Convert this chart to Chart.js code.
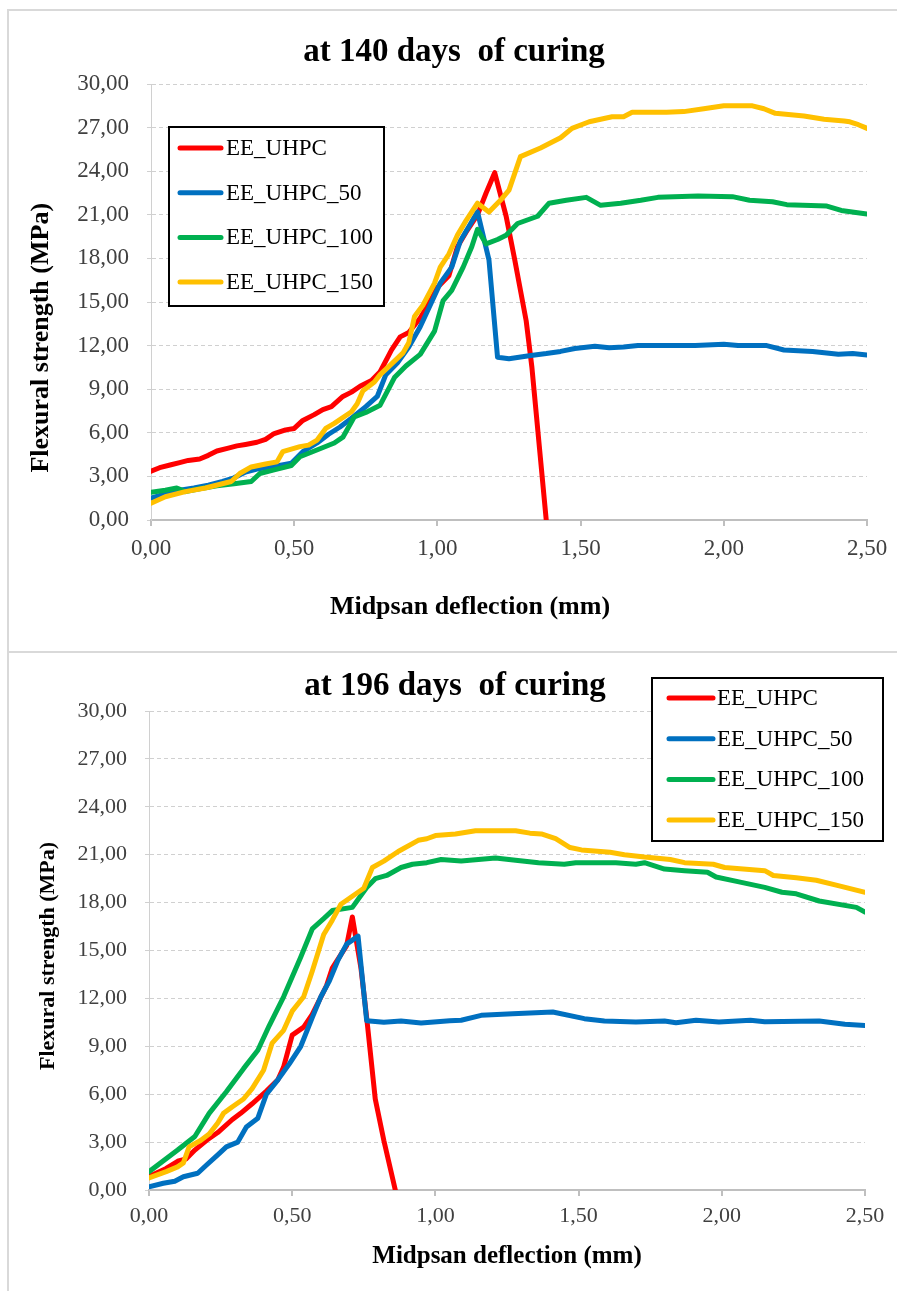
<!DOCTYPE html>
<html>
<head>
<meta charset="utf-8">
<title>Flexural strength vs midspan deflection</title>
<script src="https://cdn.jsdelivr.net/npm/chart.js@4.4.1/dist/chart.umd.min.js"></script>
<style>
  html, body { margin: 0; padding: 0; background: #fff; }
  body { width: 897px; height: 1291px; position: relative; overflow: hidden; }
  .panel { position: absolute; border: 2px solid #d9d9d9; box-sizing: border-box; }
  #panelTop { left: 7px; top: 9px; width: 900px; height: 650px; border-bottom: none; }
  #panelBottom { left: 7px; top: 651px; width: 900px; height: 700px; }
  canvas { position: absolute; left: 0; }
  #chartTop { top: 0; }
  #chartBottom { top: 652px; }
</style>
</head>
<body>
<div class="panel" id="panelTop"></div>
<div class="panel" id="panelBottom"></div>
<canvas id="chartTop" width="897" height="648"></canvas>
<canvas id="chartBottom" width="897" height="639"></canvas>
<script>
// series names / colours (same for both panels)
const seriesNames = ['EE_UHPC', 'EE_UHPC_50', 'EE_UHPC_100', 'EE_UHPC_150'];
const seriesColors = ['#ff0000', '#0070c0', '#00b050', '#ffc000'];

// axis ticks
const xTickValues = [0, 0.5, 1, 1.5, 2, 2.5];
const yTickValues = [0, 3, 6, 9, 12, 15, 18, 21, 24, 27, 30];

// ---- 140 days: deflection (mm) / strength (MPa)
const d140_EE = [0.00,0.03,0.07,0.10,0.13,0.17,0.20,0.23,0.27,0.30,0.33,0.37,0.40,0.43,0.47,0.50,0.53,0.57,0.60,0.63,0.67,0.70,0.73,0.77,0.80,0.84,0.87,0.90,0.94,0.97,1.00,1.04,1.07,1.10,1.14,1.17,1.20,1.24,1.27,1.31,1.33,1.38];
const s140_EE = [3.35,3.6,3.8,3.95,4.1,4.2,4.45,4.75,4.95,5.1,5.2,5.35,5.55,5.95,6.2,6.3,6.85,7.25,7.6,7.8,8.5,8.8,9.2,9.6,10.2,11.7,12.6,12.9,13.9,14.9,16.0,16.8,18.8,19.8,21.0,22.5,23.9,20.9,17.9,13.7,10.5,0];

const d140_50 = [0.00,0.05,0.10,0.15,0.20,0.25,0.29,0.33,0.37,0.42,0.49,0.53,0.58,0.62,0.66,0.70,0.75,0.79,0.82,0.86,0.90,0.94,0.98,1.01,1.05,1.08,1.11,1.14,1.18,1.21,1.25,1.32,1.38,1.43,1.48,1.55,1.60,1.65,1.70,1.80,1.90,2.00,2.05,2.15,2.21,2.31,2.40,2.45,2.50];
const s140_50 = [1.5,1.8,2.05,2.2,2.4,2.65,2.9,3.3,3.5,3.65,3.9,4.7,5.3,5.9,6.4,7.0,7.8,8.5,10.0,10.8,11.9,13.3,15.0,16.3,17.4,19.2,20.2,21.2,17.9,11.2,11.1,11.3,11.45,11.6,11.8,11.95,11.85,11.9,12.0,12.0,12.0,12.1,12.0,12.0,11.7,11.6,11.4,11.45,11.35];

const d140_100 = [0.00,0.05,0.09,0.12,0.17,0.23,0.29,0.35,0.38,0.43,0.49,0.52,0.59,0.64,0.67,0.71,0.75,0.80,0.85,0.89,0.94,0.99,1.02,1.05,1.09,1.12,1.14,1.17,1.21,1.24,1.28,1.35,1.39,1.45,1.52,1.57,1.64,1.71,1.77,1.91,2.03,2.09,2.17,2.22,2.36,2.41,2.50];
const s140_100 = [1.9,2.05,2.2,1.95,2.15,2.35,2.5,2.65,3.2,3.45,3.75,4.35,4.9,5.3,5.7,7.1,7.4,7.9,9.8,10.6,11.4,13.0,15.1,15.8,17.4,18.8,20.0,19.0,19.3,19.6,20.4,20.9,21.8,22.0,22.2,21.65,21.8,22.0,22.2,22.3,22.25,22.0,21.9,21.7,21.6,21.3,21.05];

const d140_150 = [0.00,0.05,0.12,0.19,0.28,0.31,0.35,0.40,0.44,0.46,0.52,0.55,0.58,0.61,0.64,0.70,0.72,0.74,0.78,0.80,0.83,0.88,0.90,0.92,0.95,0.99,1.01,1.04,1.07,1.10,1.14,1.18,1.22,1.25,1.29,1.36,1.43,1.47,1.53,1.61,1.65,1.68,1.80,1.86,1.93,2.00,2.10,2.14,2.18,2.28,2.35,2.42,2.44,2.47,2.50];
const s140_150 = [1.15,1.6,1.95,2.2,2.65,3.2,3.65,3.85,4.0,4.7,5.05,5.15,5.5,6.3,6.65,7.45,8.0,8.9,9.5,10.0,10.55,11.5,12.2,14.0,14.8,16.3,17.4,18.3,19.6,20.6,21.8,21.2,22.0,22.7,25.0,25.6,26.3,26.95,27.4,27.75,27.75,28.05,28.05,28.1,28.3,28.5,28.5,28.3,27.98,27.8,27.57,27.45,27.4,27.2,26.95];

// ---- 196 days
const d196_EE = [0.00,0.06,0.10,0.13,0.16,0.20,0.24,0.29,0.32,0.36,0.41,0.45,0.47,0.50,0.54,0.57,0.62,0.64,0.69,0.71,0.74,0.76,0.79,0.82,0.86];
const s196_EE = [0.85,1.35,1.8,1.95,2.5,3.1,3.6,4.4,4.8,5.4,6.2,6.9,7.7,9.7,10.2,11.0,12.8,13.9,15.3,17.1,13.9,10.8,5.7,3.1,0];

const d196_50 = [0.00,0.05,0.09,0.12,0.17,0.20,0.24,0.27,0.31,0.34,0.38,0.41,0.45,0.49,0.53,0.57,0.60,0.63,0.66,0.69,0.73,0.76,0.82,0.88,0.95,1.05,1.09,1.16,1.27,1.33,1.41,1.52,1.59,1.70,1.80,1.84,1.91,1.99,2.10,2.15,2.34,2.43,2.50];
const s196_50 = [0.2,0.42,0.55,0.83,1.05,1.55,2.2,2.7,3.0,3.95,4.5,6.0,6.9,7.9,9.0,10.8,12.1,13.1,14.4,15.4,15.9,10.6,10.5,10.58,10.46,10.6,10.63,10.94,11.04,11.08,11.15,10.73,10.58,10.52,10.58,10.48,10.63,10.52,10.63,10.54,10.58,10.38,10.31];

const d196_100 = [0.00,0.10,0.16,0.21,0.27,0.33,0.38,0.42,0.47,0.53,0.57,0.61,0.64,0.71,0.76,0.79,0.83,0.88,0.92,0.97,1.02,1.09,1.21,1.28,1.36,1.45,1.49,1.63,1.70,1.73,1.80,1.87,1.95,1.98,2.06,2.15,2.21,2.26,2.34,2.47,2.50];
const s196_100 = [1.15,2.5,3.35,4.8,6.15,7.6,8.75,10.3,12.1,14.6,16.35,17.0,17.5,17.7,18.95,19.5,19.7,20.2,20.4,20.5,20.7,20.6,20.8,20.65,20.5,20.4,20.5,20.5,20.4,20.5,20.1,20.0,19.9,19.6,19.3,18.95,18.65,18.55,18.1,17.7,17.4];

const d196_150 = [0.00,0.06,0.10,0.12,0.14,0.18,0.21,0.24,0.26,0.29,0.33,0.36,0.40,0.43,0.47,0.50,0.54,0.57,0.61,0.64,0.67,0.71,0.75,0.78,0.82,0.87,0.94,0.97,1.00,1.07,1.14,1.28,1.33,1.37,1.42,1.47,1.51,1.61,1.66,1.73,1.82,1.87,1.97,2.01,2.15,2.18,2.26,2.33,2.41,2.50];
const s196_150 = [0.75,1.15,1.45,1.7,2.7,3.1,3.5,4.2,4.8,5.2,5.7,6.35,7.5,9.2,10.0,11.2,12.1,13.7,16.0,16.9,17.9,18.4,18.9,20.2,20.6,21.2,21.9,22.0,22.2,22.3,22.5,22.5,22.35,22.3,22.0,21.45,21.3,21.15,21.0,20.85,20.7,20.5,20.4,20.2,20.0,19.7,19.55,19.4,19.05,18.65];

const SERIF = '"Liberation Serif", "Times New Roman", serif';

function fmt(v) {
    return Number(v).toFixed(2).replace('.', ',');
}

function pairs(xs, ys) {
    return xs.map(function (x, i) { return { x: x, y: ys[i] }; });
}

function makeDatasets(list, width) {
    return list.map(function (s, i) {
        return {
            label: seriesNames[i],
            data: pairs(s[0], s[1]),
            showLine: true,
            borderColor: seriesColors[i],
            backgroundColor: seriesColors[i],
            borderWidth: width,
            pointRadius: 0,
            tension: 0,
            borderJoinStyle: 'round',
            borderCapStyle: 'round',
            order: list.length - i  // later series on top, like the original
        };
    });
}

// legend drawn as a framed box inside the plot
const boxLegend = {
    id: 'boxLegend',
    afterDatasetsDraw: function (chart, args, o) {
        var ctx = chart.ctx;
        ctx.save();
        ctx.fillStyle = '#ffffff';
        ctx.fillRect(o.left, o.top, o.width, o.height);
        ctx.lineWidth = 2;
        ctx.strokeStyle = '#000000';
        ctx.strokeRect(o.left, o.top, o.width, o.height);
        ctx.font = o.fontSize + 'px ' + SERIF;
        ctx.textBaseline = 'middle';
        ctx.textAlign = 'left';
        chart.data.datasets.forEach(function (ds, i) {
            var y = o.firstRow + i * o.rowGap;
            ctx.beginPath();
            ctx.strokeStyle = ds.borderColor;
            ctx.lineWidth = 5;
            ctx.lineCap = 'round';
            ctx.moveTo(o.lineStart, y);
            ctx.lineTo(o.lineEnd, y);
            ctx.stroke();
            ctx.fillStyle = '#000000';
            ctx.fillText(ds.label, o.textStart, y + 1);
        });
        ctx.restore();
    }
};

function makeChart(id, datasets, c) {
    return new Chart(document.getElementById(id), {
        type: 'scatter',
        data: { datasets: datasets },
        plugins: [boxLegend],
        options: {
            responsive: false,
            animation: false,
            layout: { padding: { left: c.left, right: c.right, top: 0, bottom: 0 } },
            plugins: {
                legend: { display: false },
                tooltip: { enabled: false },
                title: {
                    display: true,
                    text: c.title,
                    color: '#000000',
                    font: { family: SERIF, size: c.titleSize, weight: 'bold', lineHeight: 1 },
                    padding: c.titlePad
                },
                boxLegend: c.legend
            },
            scales: {
                x: {
                    type: 'linear',
                    min: 0,
                    max: 2.5,
                    afterBuildTicks: function (s) { s.ticks = xTickValues.map(function (v) { return { value: v }; }); },
                    afterFit: function (s) { s.height = c.xHeight; },
                    grid: { drawOnChartArea: false, drawTicks: true, tickLength: 6, color: '#bfbfbf', lineWidth: 2 },
                    border: { display: true, color: '#bfbfbf', width: 2 },
                    ticks: {
                        color: '#404040',
                        font: { family: SERIF, size: c.tickSize },
                        padding: c.xTickPad,
                        maxRotation: 0,
                        autoSkip: false,
                        callback: fmt
                    },
                    title: {
                        display: true,
                        text: c.xTitle,
                        color: '#000000',
                        font: { family: SERIF, size: c.xTitleSize, weight: 'bold', lineHeight: 1 },
                        padding: { top: 0, bottom: c.xTitlePad }
                    }
                },
                y: {
                    min: 0,
                    max: 30,
                    afterBuildTicks: function (s) { s.ticks = yTickValues.map(function (v) { return { value: v }; }); },
                    afterFit: function (s) { s.width = c.yWidth; },
                    grid: { color: '#d0d0d0', lineWidth: 1, drawTicks: true, tickLength: 4 },
                    border: { display: true, color: '#d0d0d0', width: 1, dash: [4, 3] },
                    ticks: {
                        color: '#404040',
                        font: { family: SERIF, size: c.tickSize },
                        padding: 18,
                        callback: fmt
                    },
                    title: {
                        display: true,
                        text: c.yTitle,
                        color: '#000000',
                        font: { family: SERIF, size: c.yTitleSize, weight: 'bold', lineHeight: 1 },
                        padding: { top: c.yTitlePad, bottom: 0 }
                    }
                }
            }
        }
    });
}

document.addEventListener('DOMContentLoaded', function () {
    makeChart('chartTop', makeDatasets([
        [d140_EE, s140_EE], [d140_50, s140_50], [d140_100, s140_100], [d140_150, s140_150]
    ], 5), {
        title: 'at 140 days  of curing',
        titleSize: 33,
        titlePad: { top: 35.5, bottom: 15.5 },
        left: 41,
        right: 30,
        xHeight: 128,
        yWidth: 110,
        tickSize: 23,
        xTickPad: 9,
        xTitle: 'Midpsan deflection (mm)' + '            ',
        xTitleSize: 26,
        xTitlePad: 28,
        yTitle: 'Flexural strength (MPa)' + '           ',
        yTitleSize: 26,
        yTitlePad: -13,
        legend: { left: 169, top: 127, width: 215, height: 179, firstRow: 148, rowGap: 44.7,
                  lineStart: 180, lineEnd: 221, textStart: 226, fontSize: 23 }
    });

    makeChart('chartBottom', makeDatasets([
        [d196_EE, s196_EE], [d196_50, s196_50], [d196_100, s196_100], [d196_150, s196_150]
    ], 5), {
        title: 'at 196 days  of curing',
        titleSize: 33,
        titlePad: { top: 17.5, bottom: 8.5 },
        left: 45,
        right: 32,
        xHeight: 101,
        yWidth: 104,
        tickSize: 22,
        xTickPad: 7,
        xTitle: 'Midpsan deflection (mm)',
        xTitleSize: 25,
        xTitlePad: 21.5,
        yTitle: 'Flexural strength (MPa)' + '  ',
        yTitleSize: 22,
        yTitlePad: -8,
        legend: { left: 652, top: 26, width: 231, height: 163, firstRow: 46, rowGap: 40.7,
                  lineStart: 669, lineEnd: 713, textStart: 717, fontSize: 23 }
    });
});
</script>
</body>
</html>
